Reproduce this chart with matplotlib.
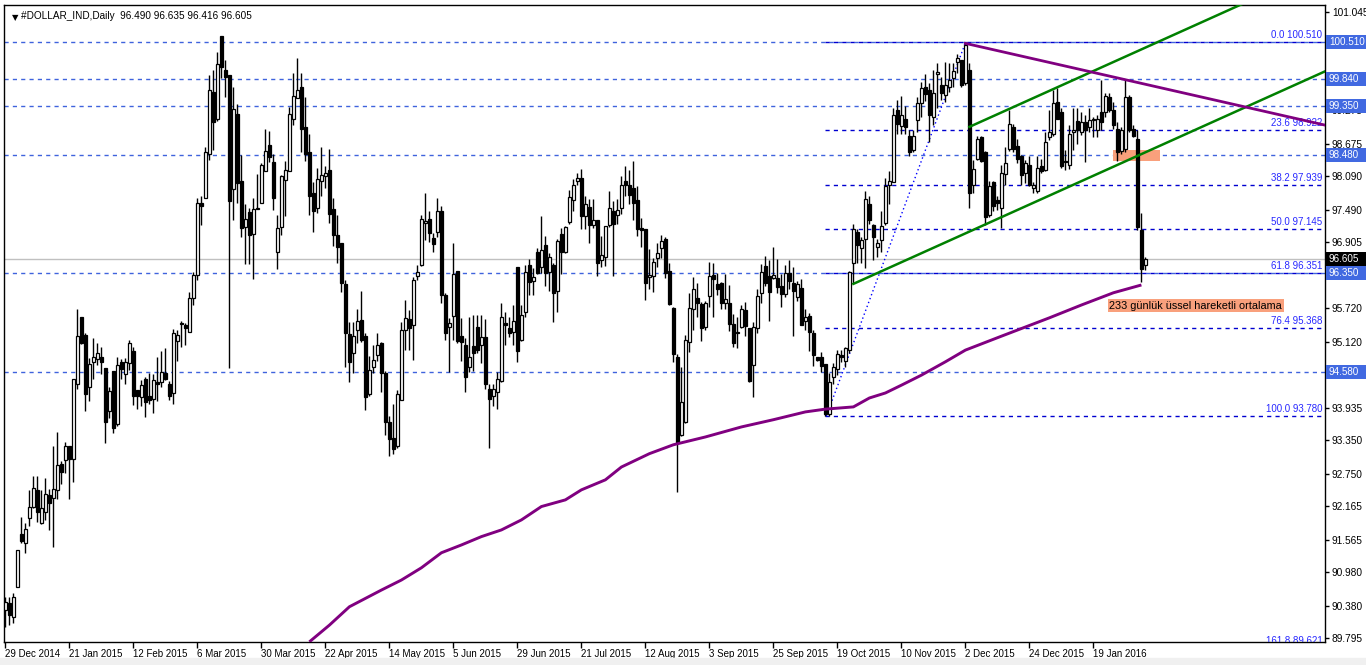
import numpy as np
import matplotlib
matplotlib.use("Agg")
import matplotlib.pyplot as plt
from matplotlib import font_manager
from matplotlib.patches import Rectangle
import matplotlib.transforms as mtransforms

names = {f.name for f in font_manager.fontManager.ttflist}
FONT = "Liberation Sans Narrow" if "Liberation Sans Narrow" in names else "Liberation Sans"
NARROW = FONT.endswith("Narrow")
fs = (lambda s: s * 1.18) if NARROW else (lambda s: s)
plt.rcParams["font.family"] = [FONT, "DejaVu Sans"]

# --- daily OHLC, #DOLLAR_IND ---
opens = [
    90.30, 90.43, 90.18, 90.72, 91.67, 91.50, 91.95, 92.16, 92.46, 91.87,
    92.07, 92.36, 92.31, 92.46, 92.93, 93.00, 93.24, 93.01, 94.36, 95.57,
    95.25, 94.30, 94.76, 94.81, 94.85, 94.64, 93.88, 94.60, 93.65, 94.76,
    94.54, 94.73, 94.96, 94.26, 94.12, 94.46, 94.15, 94.09, 94.39, 94.39,
    94.55, 94.36, 94.20, 95.14, 95.45, 95.42, 95.29, 95.90, 96.32, 97.62,
    97.71, 98.49, 99.61, 99.12, 100.61, 100.01, 99.91, 97.86, 99.21, 98.01,
    97.19, 97.45, 97.05, 97.50, 97.61, 98.18, 98.65, 98.34, 96.74, 97.18,
    98.03, 98.18, 99.13, 99.49, 99.69, 98.97, 98.52, 97.80, 97.53, 98.01,
    98.09, 98.21, 97.50, 97.04, 96.90, 96.16, 95.26, 94.91, 95.34, 95.51,
    95.22, 94.19, 94.66, 94.88, 95.09, 94.56, 93.67, 93.39, 93.24, 94.08,
    95.33, 95.52, 95.42, 96.31, 96.50, 97.25, 97.32, 96.98, 97.09, 97.46,
    95.96, 95.38, 95.59, 96.39, 95.22, 95.06, 94.67, 95.04, 95.38, 95.06,
    95.20, 94.27, 94.15, 94.22, 94.42, 95.46, 95.36, 95.30, 96.47, 95.16,
    95.66, 96.50, 96.22, 96.74, 96.47, 96.85, 96.38, 96.50, 96.04, 97.06,
    96.74, 97.28, 97.67, 98.00, 98.06, 97.37, 97.54, 97.22, 97.31, 96.59,
    96.64, 97.22, 97.47, 97.39, 97.52, 98.01, 97.94, 97.88, 97.67, 97.17,
    97.15, 96.29, 96.30, 96.62, 96.80, 96.96, 96.40, 95.72, 94.84, 93.45,
    93.67, 95.12, 95.70, 95.90, 95.80, 95.38, 95.95, 96.32, 96.16, 96.17,
    95.81, 95.81, 95.44, 95.27, 95.39, 95.69, 95.36, 94.70, 95.36, 95.99,
    96.48, 96.30, 96.26, 96.26, 96.12, 95.98, 96.35, 96.18, 95.93, 96.08,
    95.50, 95.58, 95.27, 94.84, 94.85, 94.72, 93.83, 94.49, 94.63, 94.88,
    94.78, 94.98, 96.53, 97.10, 96.80, 96.96, 97.60, 97.22, 96.83, 96.94,
    97.26, 97.94, 97.99, 99.29, 98.99, 99.12, 98.82, 98.56, 99.10, 99.40,
    99.70, 99.64, 99.15, 99.93, 99.73, 99.55, 99.70, 99.85, 100.15, 100.18,
    99.76, 100.01, 97.94, 98.41, 98.79, 98.53, 97.40, 97.99, 97.67, 97.53,
    98.13, 98.59, 98.97, 98.64, 98.46, 98.16, 98.30, 97.89, 97.83, 98.28,
    98.21, 98.80, 98.85, 99.43, 99.24, 98.37, 98.30, 98.89, 99.09, 98.89,
    99.07, 98.98, 99.10, 98.92, 99.25, 99.25, 99.52, 99.28, 98.94, 98.55,
    98.59, 99.52, 98.95, 98.76, 97.13, 96.490,
]
highs = [
    90.54, 90.54, 90.60, 91.38, 91.98, 91.87, 92.45, 92.70, 92.70, 92.45,
    92.67, 92.47, 93.24, 93.50, 92.98, 93.32, 93.25, 94.46, 95.70, 95.57,
    95.27, 94.82, 95.19, 95.09, 95.03, 94.64, 94.30, 94.60, 94.84, 94.81,
    94.82, 95.15, 95.02, 94.26, 94.43, 94.49, 94.55, 94.54, 94.84, 94.96,
    95.00, 94.42, 95.35, 95.33, 95.49, 95.46, 96.01, 96.38, 97.70, 97.73,
    98.61, 99.91, 100.00, 100.33, 100.61, 100.19, 99.91, 99.69, 99.39, 98.47,
    97.59, 97.52, 97.71, 98.13, 98.33, 98.94, 98.91, 98.50, 97.40, 98.12,
    98.37, 99.34, 99.94, 100.21, 99.94, 99.52, 98.86, 97.99, 98.24, 98.61,
    98.28, 98.59, 97.70, 97.40, 96.90, 96.23, 95.48, 95.48, 95.70, 96.03,
    95.27, 94.86, 95.06, 95.27, 95.12, 94.60, 93.79, 94.01, 94.25, 95.48,
    95.87, 95.69, 96.29, 96.50, 97.40, 97.80, 97.46, 97.07, 97.70, 97.55,
    95.99, 95.54, 96.89, 96.39, 95.54, 95.18, 95.56, 95.60, 95.60, 95.60,
    95.52, 94.37, 94.37, 94.57, 95.81, 95.66, 95.57, 95.78, 96.47, 95.78,
    96.50, 96.60, 96.44, 96.80, 97.37, 97.02, 96.72, 96.53, 96.96, 97.16,
    97.20, 97.85, 98.04, 98.16, 98.22, 97.73, 97.68, 97.68, 97.31, 97.02,
    97.20, 97.82, 97.64, 97.68, 98.09, 98.28, 98.21, 98.36, 97.92, 97.34,
    97.15, 96.78, 96.62, 96.89, 97.04, 97.00, 96.53, 95.75, 94.90, 94.66,
    95.24, 95.99, 96.28, 96.18, 95.84, 95.86, 96.56, 96.53, 96.36, 96.20,
    96.34, 96.14, 95.62, 95.57, 95.78, 95.84, 95.36, 95.48, 96.06, 96.52,
    96.66, 96.59, 96.82, 96.60, 96.34, 96.50, 96.58, 96.46, 96.22, 96.24,
    95.70, 95.64, 95.34, 94.85, 94.94, 94.72, 94.55, 94.73, 94.97, 94.97,
    95.03, 96.40, 97.24, 97.14, 97.00, 97.83, 97.73, 97.24, 96.96, 97.46,
    98.07, 98.19, 99.31, 99.46, 99.53, 99.35, 98.92, 98.92, 99.52, 99.79,
    99.93, 99.76, 100.00, 100.12, 99.88, 100.15, 100.12, 100.12, 100.29, 100.18,
    100.51, 100.12, 98.39, 98.82, 98.82, 98.55, 98.01, 98.01, 97.73, 98.30,
    98.62, 99.28, 99.04, 98.76, 98.47, 98.39, 98.45, 97.99, 98.45, 98.41,
    98.89, 99.28, 99.64, 99.67, 99.31, 98.56, 99.01, 99.31, 99.31, 99.25,
    99.19, 99.31, 99.16, 99.19, 99.82, 99.59, 99.58, 99.43, 99.07, 98.98,
    99.83, 99.55, 99.01, 98.92, 97.43, 96.635,
]
lows = [
    90.00, 90.03, 90.07, 90.72, 91.50, 91.33, 91.81, 92.13, 91.89, 91.85,
    91.91, 91.73, 91.43, 92.30, 92.57, 92.76, 92.29, 92.60, 94.28, 95.08,
    93.88, 94.05, 94.45, 94.70, 94.54, 93.31, 93.75, 93.49, 93.61, 94.45,
    94.36, 94.61, 93.99, 93.91, 93.96, 93.76, 94.00, 93.84, 94.05, 94.31,
    94.43, 94.07, 94.00, 94.78, 95.02, 95.06, 95.29, 95.78, 96.23, 97.22,
    97.71, 98.39, 98.56, 99.09, 99.85, 99.52, 94.64, 97.30, 97.62, 97.00,
    96.52, 96.52, 96.24, 97.50, 97.61, 98.18, 98.34, 97.49, 96.42, 97.04,
    97.37, 98.18, 99.01, 99.49, 98.52, 98.36, 97.40, 97.10, 97.44, 97.74,
    97.89, 97.26, 96.84, 96.54, 96.02, 94.67, 94.40, 94.55, 95.10, 95.12,
    93.89, 94.15, 94.55, 94.78, 94.22, 93.45, 93.07, 93.10, 93.22, 94.07,
    94.97, 94.98, 94.79, 96.23, 96.48, 96.95, 96.92, 96.74, 97.01, 95.81,
    95.16, 94.58, 95.15, 95.10, 94.78, 94.22, 94.57, 94.60, 94.91, 94.73,
    94.27, 93.22, 93.97, 93.92, 94.40, 95.06, 95.20, 95.06, 94.76, 95.14,
    95.56, 95.96, 95.96, 96.34, 96.36, 96.12, 96.04, 95.48, 95.66, 96.34,
    96.72, 97.24, 97.46, 97.94, 97.14, 97.14, 96.89, 97.16, 96.30, 96.47,
    96.48, 97.18, 96.30, 97.24, 97.42, 97.74, 97.60, 97.30, 97.02, 96.83,
    95.87, 96.06, 96.02, 96.46, 96.62, 96.26, 95.78, 94.75, 92.43, 93.42,
    93.66, 94.94, 95.33, 95.56, 95.14, 95.34, 95.74, 95.56, 95.96, 95.70,
    95.70, 95.32, 95.03, 95.00, 95.36, 95.22, 94.40, 94.12, 95.27, 95.82,
    96.12, 95.50, 96.24, 95.99, 95.75, 95.93, 96.06, 95.22, 95.86, 95.42,
    95.34, 94.96, 94.69, 94.78, 94.57, 93.79, 93.78, 94.37, 94.52, 94.76,
    94.67, 94.91, 96.17, 96.53, 96.54, 96.44, 97.24, 96.59, 96.64, 96.74,
    97.22, 97.60, 97.99, 98.85, 98.86, 98.86, 98.45, 98.53, 98.89, 99.15,
    99.45, 98.71, 99.01, 99.31, 99.46, 99.43, 99.61, 99.69, 99.94, 99.70,
    99.73, 97.52, 97.79, 98.39, 98.35, 97.22, 97.36, 97.46, 97.49, 97.16,
    97.94, 98.55, 98.53, 98.33, 97.94, 97.98, 97.91, 97.79, 97.79, 98.15,
    98.18, 98.74, 98.82, 99.12, 98.25, 98.21, 98.23, 98.56, 98.68, 98.83,
    98.35, 98.89, 98.80, 98.80, 98.92, 99.16, 99.25, 98.95, 98.37, 98.50,
    98.52, 98.89, 98.79, 97.13, 96.20, 96.416,
]
closes = [
    90.45, 90.21, 90.54, 91.38, 91.55, 91.75, 92.16, 92.49, 92.07, 92.14,
    92.39, 92.22, 92.48, 92.90, 92.78, 93.25, 93.02, 94.46, 95.22, 95.09,
    94.18, 94.72, 94.84, 94.91, 94.75, 93.67, 94.24, 93.57, 94.70, 94.63,
    94.76, 95.09, 94.15, 94.14, 94.34, 94.03, 94.07, 94.43, 94.37, 94.58,
    94.45, 94.14, 95.27, 95.24, 95.44, 95.36, 95.90, 96.32, 97.61, 97.55,
    98.53, 99.64, 99.06, 100.11, 100.05, 99.88, 97.65, 99.30, 97.97, 97.16,
    97.32, 97.04, 97.50, 97.53, 98.30, 98.55, 98.43, 97.71, 97.16, 98.09,
    98.21, 99.22, 99.53, 99.64, 98.95, 98.49, 97.73, 97.46, 98.05, 98.12,
    98.15, 97.41, 97.03, 96.82, 96.17, 95.27, 94.76, 95.22, 95.49, 95.16,
    94.12, 94.62, 94.79, 95.06, 94.56, 93.68, 93.37, 93.20, 94.18, 95.33,
    95.54, 95.36, 96.23, 96.38, 97.32, 97.29, 97.08, 96.88, 97.47, 95.96,
    95.27, 95.45, 96.34, 95.14, 95.12, 94.49, 94.85, 94.92, 94.98, 95.20,
    94.37, 94.10, 94.28, 94.46, 95.56, 95.43, 95.28, 95.50, 94.96, 95.60,
    96.38, 96.19, 96.28, 96.36, 96.77, 96.35, 96.64, 95.99, 96.93, 96.74,
    97.18, 97.72, 97.94, 98.06, 97.37, 97.60, 97.22, 97.31, 96.54, 96.68,
    97.20, 97.52, 97.24, 97.49, 97.94, 97.94, 97.76, 97.61, 97.15, 97.13,
    96.17, 96.32, 96.55, 96.72, 96.93, 96.35, 95.80, 94.90, 93.31, 94.04,
    95.15, 95.72, 96.06, 95.82, 95.36, 95.82, 96.30, 96.24, 96.06, 95.82,
    95.88, 95.44, 95.09, 95.30, 95.70, 95.40, 94.42, 95.39, 95.94, 96.38,
    96.18, 96.02, 96.32, 96.11, 95.98, 96.36, 96.22, 96.04, 96.16, 95.42,
    95.56, 95.30, 94.88, 94.79, 94.69, 93.83, 94.40, 94.67, 94.90, 94.84,
    95.00, 96.38, 97.14, 96.86, 96.95, 97.68, 97.30, 97.00, 96.90, 97.20,
    97.92, 98.00, 99.20, 99.04, 99.19, 98.97, 98.53, 98.82, 99.41, 99.67,
    99.57, 99.19, 99.58, 99.97, 99.58, 99.73, 99.82, 99.99, 100.21, 99.73,
    100.45, 97.80, 98.22, 98.77, 98.37, 97.36, 97.92, 97.55, 97.62, 98.16,
    98.33, 99.04, 98.59, 98.40, 98.12, 98.33, 97.94, 97.94, 98.25, 98.19,
    98.71, 98.89, 99.40, 99.13, 98.28, 98.34, 98.85, 98.92, 98.92, 99.06,
    98.92, 99.10, 99.13, 99.12, 99.07, 99.53, 99.28, 99.01, 98.53, 98.92,
    99.52, 98.92, 98.82, 97.19, 96.42, 96.605,
]

date_labels = ["29 Dec 2014", "21 Jan 2015", "12 Feb 2015", "6 Mar 2015", "30 Mar 2015",
               "22 Apr 2015", "14 May 2015", "5 Jun 2015", "29 Jun 2015", "21 Jul 2015",
               "12 Aug 2015", "3 Sep 2015", "25 Sep 2015", "19 Oct 2015", "10 Nov 2015",
               "2 Dec 2015", "24 Dec 2015", "19 Jan 2016"]
date_bars = [16 * k for k in range(len(date_labels))]

y_ticks = [101.045, 100.460, 99.875, 99.275, 98.675, 98.090, 97.490, 96.905, 96.305,
           95.720, 95.120, 94.520, 93.935, 93.350, 92.750, 92.165, 91.565, 90.980,
           90.380, 89.795]

# 233-day EMA, read at sample bars
ema_bar = [76, 81, 86, 94, 99, 104, 109, 114, 119, 124, 129, 134, 140, 144, 150, 154,
           161, 167, 175, 184, 192, 200, 205, 212, 216, 220, 224, 229, 235, 240, 249,
           261, 269, 277, 284]
ema_val = [89.73, 90.03, 90.36, 90.66, 90.84, 91.06, 91.33, 91.47, 91.62, 91.74, 91.92,
           92.16, 92.28, 92.46, 92.64, 92.87, 93.11, 93.27, 93.41, 93.59, 93.72, 93.86,
           93.91, 93.95, 94.11, 94.20, 94.34, 94.52, 94.76, 94.97, 95.22, 95.55, 95.78,
           96.00, 96.14]

sr_levels = [100.510, 99.840, 99.350, 98.480, 96.350, 94.580]
fib_pct = ["0.0", "23.6", "38.2", "50.0", "61.8", "76.4", "100.0", "161.8"]
fib_val = [100.510, 98.922, 97.939, 97.145, 96.351, 95.368, 93.780, 89.621]
fib_start = 205
last_price = 96.605

chan_low = ([212, 330], [96.16, 99.98])
chan_high = ([241, 330], [98.98, 101.86])
down_line = ([240, 330], [100.48, 99.01])
fib_base = ([205.2, 240.1], [93.78, 100.51])

# ---------------------------------------------------------------
W, H = 1366, 665
fig = plt.figure(figsize=(W / 100, H / 100), dpi=100)
fig.patches.append(Rectangle((0, 0), 1, 7 / H, transform=fig.transFigure,
                             color="#f0f0f0", zorder=0))
ax = fig.add_axes([4 / W, 23 / H, 1321 / W, 637 / H])
ax.set_xlim(-0.35, 329.9)
ax.set_ylim(89.727, 101.169)
px = (101.169 - 89.727) / 637  # price units per pixel

x = np.arange(len(closes))
o = np.array(opens); c = np.array(closes); hi = np.array(highs); lo = np.array(lows)

trans = mtransforms.blended_transform_factory(ax.transAxes, ax.transData)

# horizontal levels
for lv in sr_levels:
    ax.axhline(lv, color="#3f63dd", lw=1, ls=(0, (3, 3)), zorder=1)
ax.axhline(last_price, color="#c0c0c0", lw=1, zorder=1)
for p, v in zip(fib_pct, fib_val):
    ax.plot([fib_start, 330], [v, v], color="#0000d0", lw=1, ls=(0, (3, 3)), zorder=1)
    t = ax.text(0.998, v + 2 * px, f"{p} {v:.3f}", transform=trans, ha="right",
                va="bottom", color="#2828ff", fontsize=fs(7), zorder=5, clip_on=True)
    t.set_clip_box(ax.bbox)
ax.plot(*fib_base, color="#0000ff", lw=1, ls=(0, (1, 2)), zorder=2)

ax.add_patch(Rectangle((276.9, 98.37), 11.8, 0.195, facecolor="#f9a07c",
                       edgecolor="none", zorder=2))

# candles
ax.vlines(x, lo, hi, color="black", lw=1, zorder=3)
up = c >= o
body_h = np.maximum(np.abs(c - o), 0.004)
ax.bar(x, body_h, bottom=np.minimum(o, c), width=0.62,
       color=np.where(up, "white", "black"), edgecolor="black", lw=0.9, zorder=4)

# EMA & trend lines
ax.plot(ema_bar, ema_val, color="#800080", lw=2.1, zorder=5, solid_capstyle="butt")
ax.plot(*chan_low, color="#008000", lw=1.8, zorder=5)
ax.plot(*chan_high, color="#008000", lw=1.8, zorder=5)
ax.plot(*down_line, color="#800080", lw=2.0, zorder=5)

ax.text(276.0, 95.77, "233 günlük üssel hareketli ortalama", fontsize=fs(7.8),
        va="center", ha="left", zorder=6,
        bbox=dict(boxstyle="square,pad=0.15", facecolor="#f9a07c", edgecolor="none"))

# header
ax.text(0.0062, 0.988, "\u25bc", transform=ax.transAxes, fontsize=6, va="top",
        family="DejaVu Sans")
ax.text(0.0125, 0.991, "#DOLLAR_IND,Daily  96.490 96.635 96.416 96.605",
        transform=ax.transAxes, fontsize=fs(7.2), va="top")

# axes styling
for s in ax.spines.values():
    s.set_color("black"); s.set_linewidth(1)
ax.yaxis.tick_right()
ax.set_yticks(y_ticks)
ax.set_yticklabels([f"{t:.3f}" for t in y_ticks])
ax.tick_params(axis="y", length=3, width=1, labelsize=fs(7.3), pad=2)
ax.set_xticks(date_bars)
ax.set_xticklabels(date_labels, ha="left")
ax.tick_params(axis="x", length=4, width=1, labelsize=fs(7), pad=1)

# price boxes on the price scale
box_w = 40 / 1321
for lv, col in [(v, "#4169e1") for v in sr_levels] + [(last_price, "black")]:
    ax.add_patch(Rectangle((1.0008, lv - 7 * px), box_w, 14 * px, transform=trans,
                           facecolor=col, edgecolor="none", clip_on=False, zorder=9))
    ax.text(1.0030, lv, f"{lv:.3f}", transform=trans, ha="left", va="center",
            color="white", fontsize=fs(7.1), zorder=10, clip_on=False)

fig.savefig("out.png", dpi=100)
